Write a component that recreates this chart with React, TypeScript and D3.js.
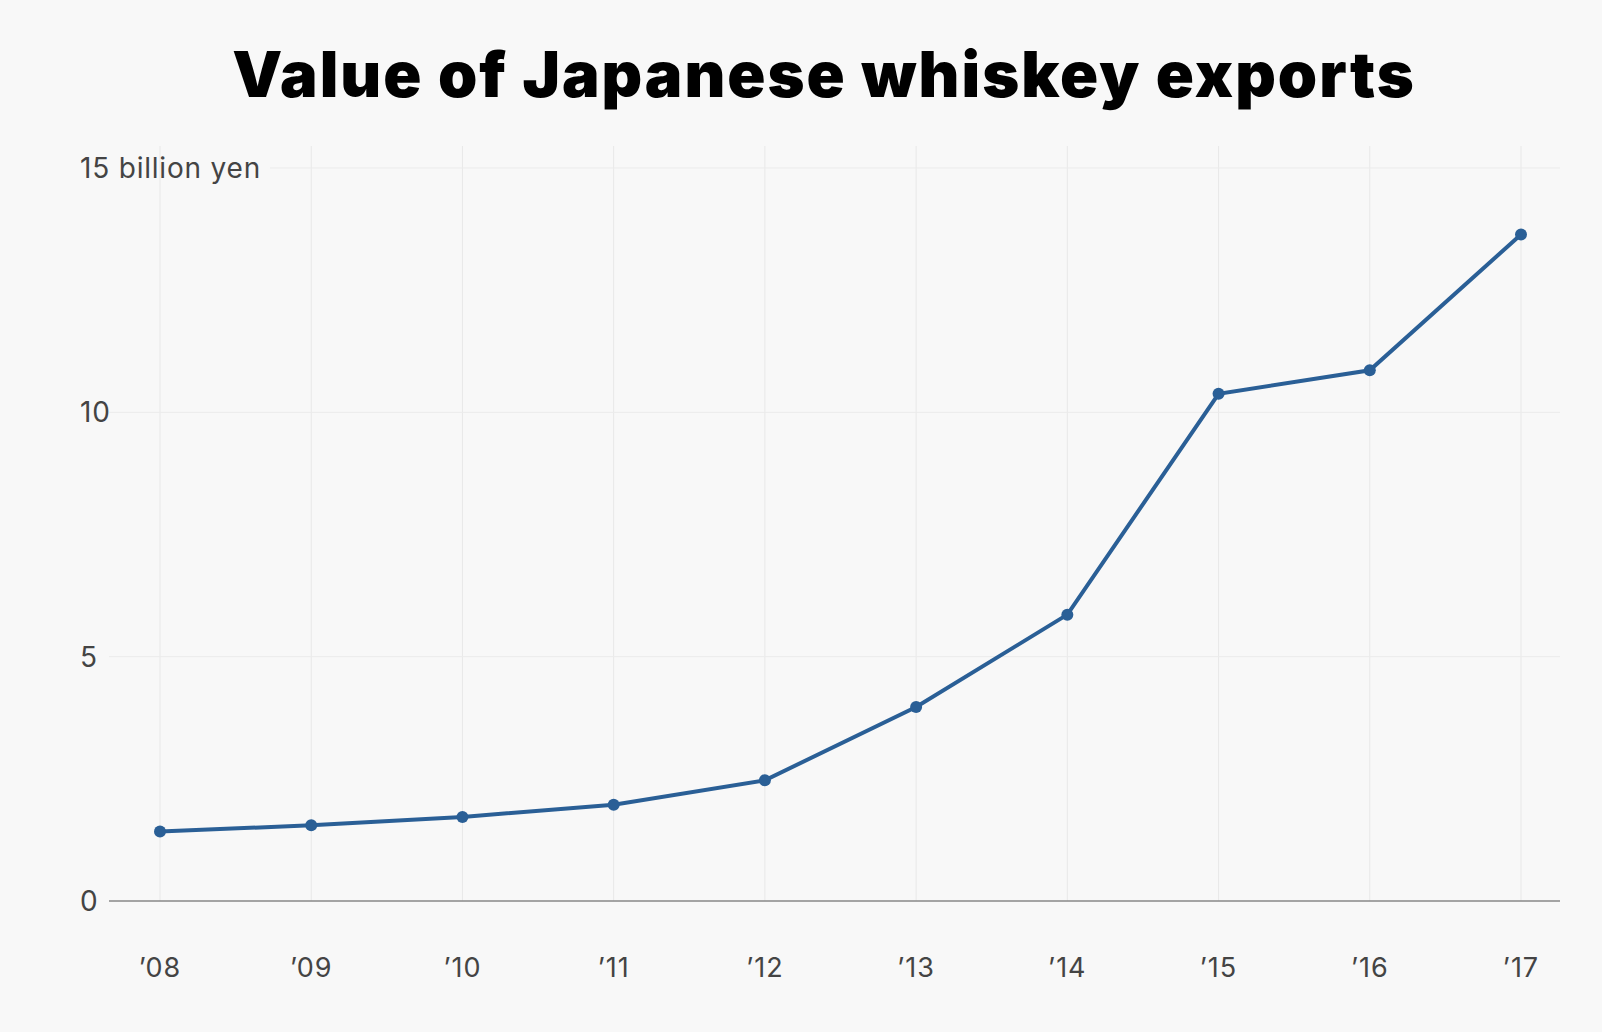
import React from "react";
import * as d3 from "d3";

const years = ["’08", "’09", "’10", "’11", "’12", "’13", "’14", "’15", "’16", "’17"];
const values = [1.42, 1.55, 1.72, 1.97, 2.47, 3.97, 5.86, 10.38, 10.86, 13.64];
const yTicks = [0, 5, 10, 15];

const W = 1602;
const H = 1032;

const App: React.FC = () => {
  const x = d3.scalePoint<string>().domain(years).range([160, 1521]);
  const y = d3.scaleLinear().domain([0, 15]).range([901, 168]);
  const line = d3
    .line<number>()
    .x((_, i) => x(years[i])!)
    .y((d) => y(d));

  return (
    <svg
      width={W}
      height={H}
      style={{ position: "absolute", left: 0, top: 0, background: "#f8f8f8" }}
      fontFamily="Inter, 'Noto Sans', sans-serif"
    >
      <rect width={W} height={H} fill="#f8f8f8" />
      <text x={824} y={97} textAnchor="middle" fontSize={63} fontWeight={900} fill="#000" letterSpacing={2}>
        Value of Japanese whiskey exports
      </text>
      {years.map((yr) => (
        <g key={yr}>
          <line x1={x(yr)} x2={x(yr)} y1={146} y2={901} stroke="#e8e8e8" strokeWidth={1} />
          <text x={x(yr)} y={977} textAnchor="middle" fontSize={27} fill="#444" letterSpacing={1}>
            {yr}
          </text>
        </g>
      ))}
      {yTicks.map((t) => (
        <g key={t}>
          <line
            x1={t === 15 ? 270 : 109}
            x2={1560}
            y1={y(t)}
            y2={y(t)}
            stroke={t === 0 ? "#888" : "#ebebeb"}
            strokeWidth={t === 0 ? 1.5 : 1}
          />
          <text x={80} y={y(t) + 10} fontSize={28} fill="#444" letterSpacing={0.8}>
            {t === 15 ? "15 billion yen" : t}
          </text>
        </g>
      ))}
      <path d={line(values)!} fill="none" stroke="#2a5f96" strokeWidth={4} />
      {values.map((v, i) => (
        <circle key={i} cx={x(years[i])} cy={y(v)} r={6} fill="#2a5f96" />
      ))}
    </svg>
  );
};

export default App;
